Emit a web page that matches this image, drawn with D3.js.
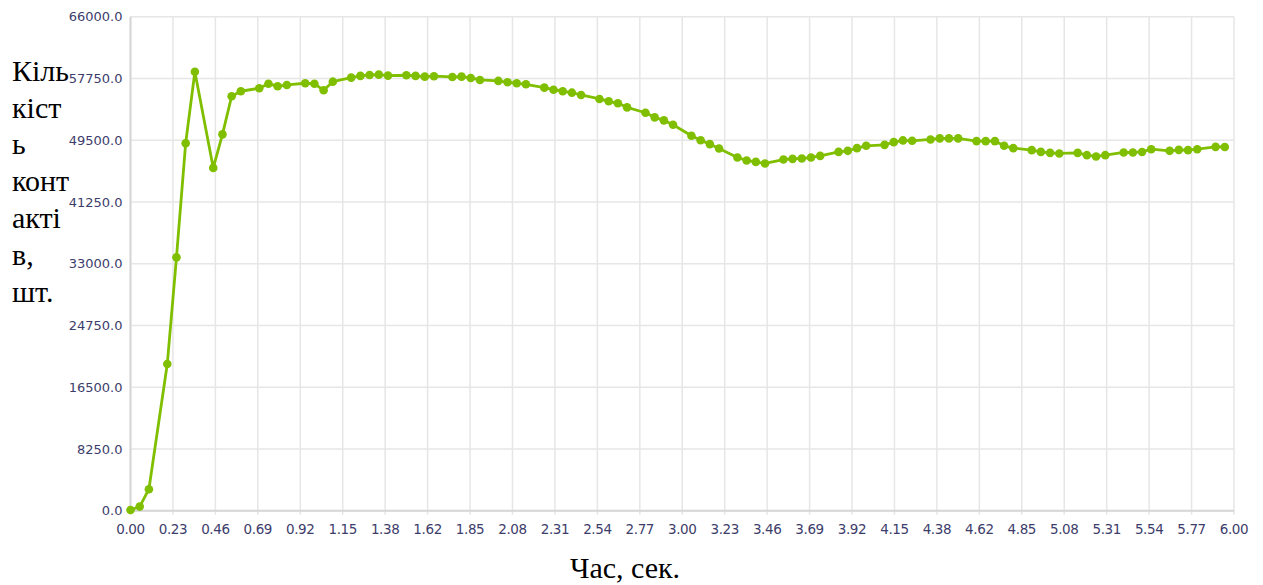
<!DOCTYPE html>
<html>
<head>
<meta charset="utf-8">
<script src="https://cdn.jsdelivr.net/npm/d3@7"></script>
<style>
  html, body { margin: 0; padding: 0; background: #fff; }
  svg { display: block; }
</style>
</head>
<body>
<svg id="chart"></svg>
<script>
// time, seconds
const times = [
  0.00, 0.05, 0.10, 0.20, 0.25, 0.30, 0.35, 0.45, 0.50, 0.55, 0.60,
  0.70, 0.75, 0.80, 0.85, 0.95, 1.00, 1.05, 1.10, 1.20, 1.25, 1.30, 1.35, 1.40,
  1.50, 1.55, 1.60, 1.65, 1.75, 1.80, 1.85, 1.90, 2.00, 2.05, 2.10, 2.15,
  2.25, 2.30, 2.35, 2.40, 2.45, 2.55, 2.60, 2.65, 2.70, 2.80, 2.85, 2.90, 2.95,
  3.05, 3.10, 3.15, 3.20, 3.30, 3.35, 3.40, 3.45, 3.55, 3.60, 3.65, 3.70, 3.75,
  3.85, 3.90, 3.95, 4.00, 4.10, 4.15, 4.20, 4.25, 4.35, 4.40, 4.45, 4.50,
  4.60, 4.65, 4.70, 4.75, 4.80, 4.90, 4.95, 5.00, 5.05, 5.15, 5.20, 5.25, 5.30,
  5.40, 5.45, 5.50, 5.55, 5.65, 5.70, 5.75, 5.80, 5.90, 5.95
];
// number of contacts
const contacts = [
  100, 550, 2870, 19600, 33850, 49100, 58650, 45800, 50280, 55370, 56040,
  56440, 57050, 56700, 56880, 57110, 57050, 56170, 57320, 57860, 58090, 58220, 58260, 58130,
  58180, 58090, 57990, 58050, 57950, 57990, 57820, 57550, 57420, 57240, 57110, 56970,
  56520, 56250, 56040, 55850, 55540, 55010, 54700, 54430, 53890, 53170, 52550, 52150, 51560,
  50090, 49490, 48980, 48400, 47190, 46790, 46600, 46390, 46920, 47010, 47060, 47190, 47410,
  47940, 48080, 48440, 48750, 48880, 49240, 49470, 49420, 49600, 49740, 49740, 49740,
  49380, 49380, 49380, 48750, 48440, 48170, 47940, 47810, 47730, 47810, 47500, 47330, 47500,
  47860, 47860, 47930, 48300, 48080, 48210, 48170, 48300, 48610, 48600
];
const yTicks = [0, 8250, 16500, 24750, 33000, 41250, 49500, 57750, 66000];
const xTicks = d3.range(27).map(i => i * 6 / 26);
const yTitleLines = ['Кіль', 'кіст', 'ь', 'конт', 'акті', 'в,', 'шт.'];
const xTitle = 'Час, сек.';

const width = 1263;
const height = 585;
const plotLeft = 130.5, plotRight = 1234, plotTop = 16.7, plotBottom = 510.7;

const svg = d3.select('#chart')
  .attr('width', width)
  .attr('height', height);

const x = d3.scaleLinear().domain([0, 6]).range([plotLeft, plotRight]);
const y = d3.scaleLinear().domain([0, 66000]).range([plotBottom, plotTop]);

// grid
svg.append('g')
  .selectAll('line')
  .data(xTicks)
  .enter()
  .append('line')
  .attr('x1', d => x(d)).attr('x2', d => x(d))
  .attr('y1', plotTop).attr('y2', plotBottom + 4)
  .attr('stroke', '#e6e6e6')
  .attr('stroke-width', 1.5);

svg.append('g')
  .selectAll('line')
  .data(yTicks)
  .enter()
  .append('line')
  .attr('x1', plotLeft).attr('x2', plotRight)
  .attr('y1', d => y(d)).attr('y2', d => y(d))
  .attr('stroke', '#e6e6e6')
  .attr('stroke-width', 1.5);

// axis lines
svg.append('line')
  .attr('x1', plotLeft).attr('x2', plotLeft)
  .attr('y1', plotTop).attr('y2', plotBottom)
  .attr('stroke', '#d6d6d6').attr('stroke-width', 2);
svg.append('line')
  .attr('x1', plotLeft).attr('x2', plotRight)
  .attr('y1', plotBottom).attr('y2', plotBottom)
  .attr('stroke', '#d6d6d6').attr('stroke-width', 2);

// tick labels
svg.append('g')
  .selectAll('text')
  .data(yTicks)
  .enter()
  .append('text')
  .attr('x', plotLeft - 8)
  .attr('y', d => y(d))
  .attr('dy', '0.35em')
  .attr('text-anchor', 'end')
  .attr('font-family', 'DejaVu Sans')
  .attr('font-size', 13)
  .attr('fill', '#3d3d6b')
  .text(d => d3.format('.1f')(d));

svg.append('g')
  .selectAll('text')
  .data(xTicks)
  .enter()
  .append('text')
  .attr('x', d => x(d))
  .attr('y', plotBottom + 23)
  .attr('text-anchor', 'middle')
  .attr('font-family', 'DejaVu Sans')
  .attr('font-size', 13.5)
  .attr('letter-spacing', -0.4)
  .attr('fill', '#3d3d6b')
  .text(d => d3.format('.2f')(d));

// series
const data = times.map((t, i) => [t, contacts[i]]);

svg.append('path')
  .datum(data)
  .attr('fill', 'none')
  .attr('stroke', '#80bf00')
  .attr('stroke-width', 2.8)
  .attr('stroke-linejoin', 'round')
  .attr('d', d3.line().x(d => x(d[0])).y(d => y(d[1])));

svg.append('g')
  .selectAll('circle')
  .data(data)
  .enter()
  .append('circle')
  .attr('cx', d => x(d[0]))
  .attr('cy', d => y(d[1]))
  .attr('r', 4.3)
  .attr('fill', '#80bf00');

// axis titles
svg.append('g')
  .selectAll('text')
  .data(yTitleLines)
  .enter()
  .append('text')
  .attr('x', 12)
  .attr('y', (d, i) => 80.7 + i * 36.8)
  .attr('font-family', 'Liberation Serif')
  .attr('font-size', 30)
  .attr('fill', '#000')
  .text(d => d);

svg.append('text')
  .attr('x', 625)
  .attr('y', 578)
  .attr('text-anchor', 'middle')
  .attr('font-family', 'Liberation Serif')
  .attr('font-size', 30)
  .attr('fill', '#000')
  .text(xTitle);
</script>
</body>
</html>
